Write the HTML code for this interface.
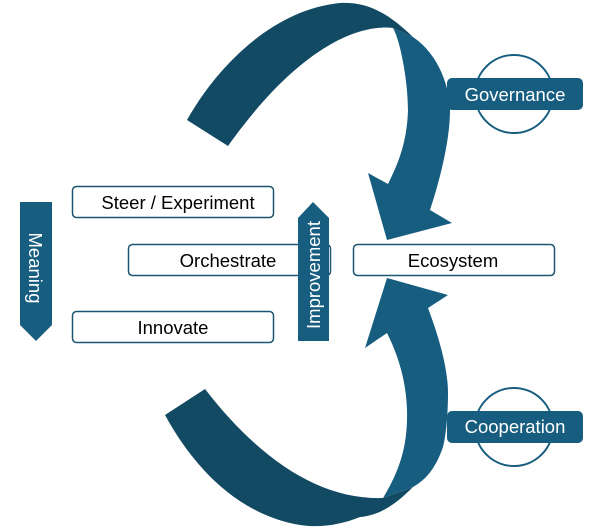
<!DOCTYPE html>
<html><head><style>
html,body{margin:0;padding:0;background:#fff;width:603px;height:532px;overflow:hidden}
</style></head><body>
<svg width="603" height="532" viewBox="0 0 603 532" xmlns="http://www.w3.org/2000/svg" font-family="Liberation Sans, sans-serif">
<circle cx="514" cy="94" r="39" fill="#fff" stroke="#175d80" stroke-width="2"/>
<circle cx="514" cy="427" r="39" fill="#fff" stroke="#175d80" stroke-width="2"/>
<path d="M187,120 C215,70 270,10 340,3 C365,2 385,10 413,37 L393,28 C360,24 300,45 228,146 Z" fill="#134a63"/>
<path d="M393,28 L413,37 C440,55 450,90 450,110 C450,140 440,180 430,210 L452,223 L387,240 L368,173 L388,184 C400,160 407,140 408,110 C408,80 400,40 393,28 Z" fill="#175d80"/>
<path d="M165,415 L205,389 C260,460 320,500 383,498 L413,487 C395,505 380,515 360,517 C340,525 320,528 300,525 C240,515 195,470 165,415 Z" fill="#134a63"/>
<path d="M383,498 C400,470 408,445 407,410 C406,380 398,355 387,333 L365,348 L387,278 L448,295 L428,308 C440,340 448,370 448,393 C448,420 445,440 443,447 C435,470 425,480 413,487 Z" fill="#175d80"/>
<rect x="447" y="78" width="136" height="32" rx="5" fill="#175d80"/>
<text x="515" y="101" font-size="18.5" fill="#fff" text-anchor="middle">Governance</text>
<rect x="447" y="411" width="136" height="32" rx="5" fill="#175d80"/>
<text x="515" y="433" font-size="18.5" fill="#fff" text-anchor="middle">Cooperation</text>
<rect x="72.5" y="186.5" width="201" height="31" rx="4" fill="#fff" stroke="#1c5570" stroke-width="1.5"/>
<text x="178" y="209" font-size="18.5" text-anchor="middle">Steer / Experiment</text>
<rect x="128.5" y="244.5" width="202" height="31" rx="4" fill="#fff" stroke="#1c5570" stroke-width="1.5"/>
<text x="228" y="267" font-size="18.5" text-anchor="middle">Orchestrate</text>
<rect x="72.5" y="311.5" width="201" height="31" rx="4" fill="#fff" stroke="#1c5570" stroke-width="1.5"/>
<text x="173" y="334" font-size="18.5" text-anchor="middle">Innovate</text>
<rect x="353.5" y="244.5" width="201" height="31" rx="4" fill="#fff" stroke="#1c5570" stroke-width="1.5"/>
<text x="453" y="267" font-size="18.5" text-anchor="middle">Ecosystem</text>
<path d="M20,202 L52,202 L52,325 L36,341 L20,325 Z" fill="#175d80"/>
<text transform="translate(29,268) rotate(90)" font-size="18.5" fill="#fff" text-anchor="middle">Meaning</text>
<path d="M298,218 L313,202 L329,218 L329,341 L298,341 Z" fill="#175d80"/>
<text transform="translate(320,275) rotate(-90)" font-size="18.5" fill="#fff" text-anchor="middle">Improvement</text>
</svg>
</body></html>
